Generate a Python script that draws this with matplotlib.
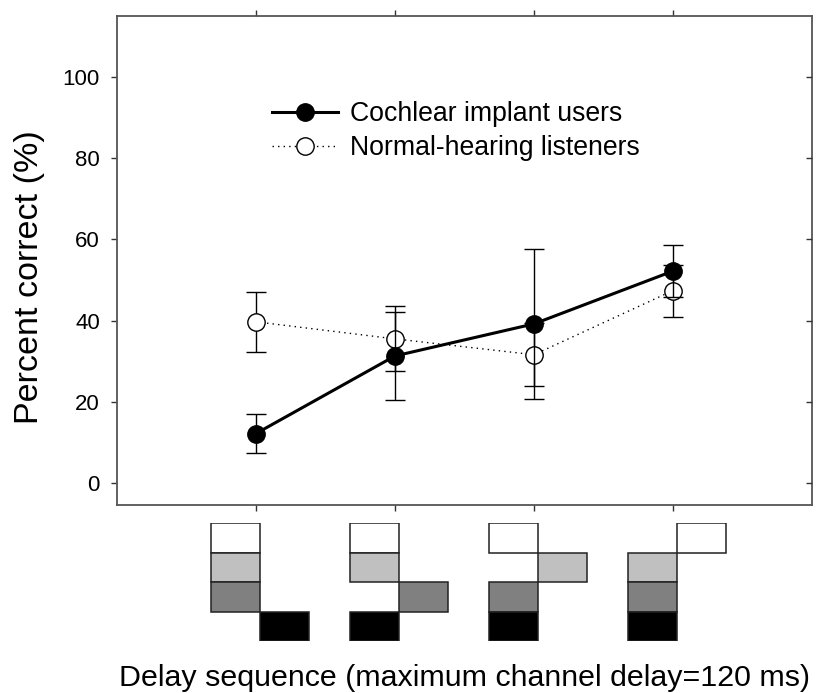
import matplotlib
matplotlib.use("Agg")
import matplotlib.pyplot as plt
import numpy as np

plt.rcParams['font.family'] = ['Liberation Sans', 'DejaVu Sans']

# ---- data ----
positions = [1, 2, 3, 4]
ci_mean = [12.2, 31.3, 39.2, 52.2]
ci_err = [4.9, 10.8, 18.4, 6.4]
nh_mean = [39.7, 35.5, 31.6, 47.4]
nh_err = [7.4, 8.0, 7.7, 6.4]
yticks = [0, 20, 40, 60, 80, 100]

# delay sequence diagrams: column (0 = no delay, 1 = delayed) for channels
channel_colors = ['white', '#c0c0c0', '#808080', 'black']
seq_columns = [
    [0, 0, 0, 1],
    [0, 0, 1, 0],
    [0, 1, 0, 0],
    [1, 0, 0, 0],
]

W, H = 817, 693
fig = plt.figure(figsize=(W / 100, H / 100), dpi=100)

def px(x0, y0, x1, y1):
    return [x0 / W, 1 - y1 / H, (x1 - x0) / W, (y1 - y0) / H]

ax = fig.add_axes(px(117, 16, 812, 505))
ax.set_xlim(0, 5)
ax.set_ylim(-5.4, 115)

nh = ax.errorbar(positions, nh_mean, yerr=nh_err, color='black', ls=(0, (1, 3)), lw=1.0,
                 marker='o', ms=12.5, mfc='white', mec='black', mew=1.0,
                 ecolor='black', elinewidth=1.0, capsize=7, capthick=1.0, zorder=3)
ci = ax.errorbar(positions, ci_mean, yerr=ci_err, color='black', ls='-', lw=2.2,
                 marker='o', ms=12.5, mfc='black', mec='black',
                 ecolor='black', elinewidth=1.0, capsize=7, capthick=1.0, zorder=4)

tick_color = '#333333'
ax.set_yticks(yticks)
ax.set_yticklabels([str(v) for v in yticks], fontsize=16)
ax.set_xticks(positions)
ax.set_xticklabels([])
ax.tick_params(axis='y', left=True, right=False, direction='out',
               length=4.3, width=1.0, pad=8, color=tick_color)
ax.tick_params(axis='x', top=True, bottom=True, direction='out', length=4,
               width=1.0, color=tick_color)
for s in ax.spines.values():
    s.set_color('#555555')
    s.set_linewidth(1.3)

# right-hand ticks point inward
axr = ax.twinx()
axr.set_ylim(ax.get_ylim())
axr.set_yticks(yticks)
axr.tick_params(axis='y', right=True, labelright=False, direction='in',
                length=4.3, width=1.0, color=tick_color)
for s in axr.spines.values():
    s.set_visible(False)

ax.set_ylabel('Percent correct (%)', fontsize=24.5, ha='center', va='center')
ax.yaxis.set_label_coords((29 - 117) / 695, (505 - 277) / 489)

ax.legend([ci[0], nh[0]], ['Cochlear implant users', 'Normal-hearing listeners'],
          loc='upper left',
          bbox_to_anchor=((272 - 117) / 695, (505 - 101) / 489),
          frameon=False, fontsize=19.2, handlelength=2.48, handletextpad=0.45,
          labelspacing=0.3, borderpad=0, borderaxespad=0, numpoints=1)

# diagrams below the axes
ax2 = fig.add_axes(px(117, 523, 812, 641))
ax2.set_xlim(0, 5)
ax2.set_ylim(4, 0)
ax2.axis('off')
col_w = 0.35
offset = 0.028
for pos, cols in zip(positions, seq_columns):
    for ch, (c, color) in enumerate(zip(cols, channel_colors)):
        left = pos + offset - col_w + c * col_w
        ax2.bar(left, 1, bottom=ch, width=col_w, align='edge', color=color,
                edgecolor='#222222', linewidth=1.1)

fig.text(119 / W, 1 - 686 / H, 'Delay sequence (maximum channel delay=120 ms)',
         fontsize=21.9, ha='left', va='baseline')

fig.savefig('out.png', dpi=100)
